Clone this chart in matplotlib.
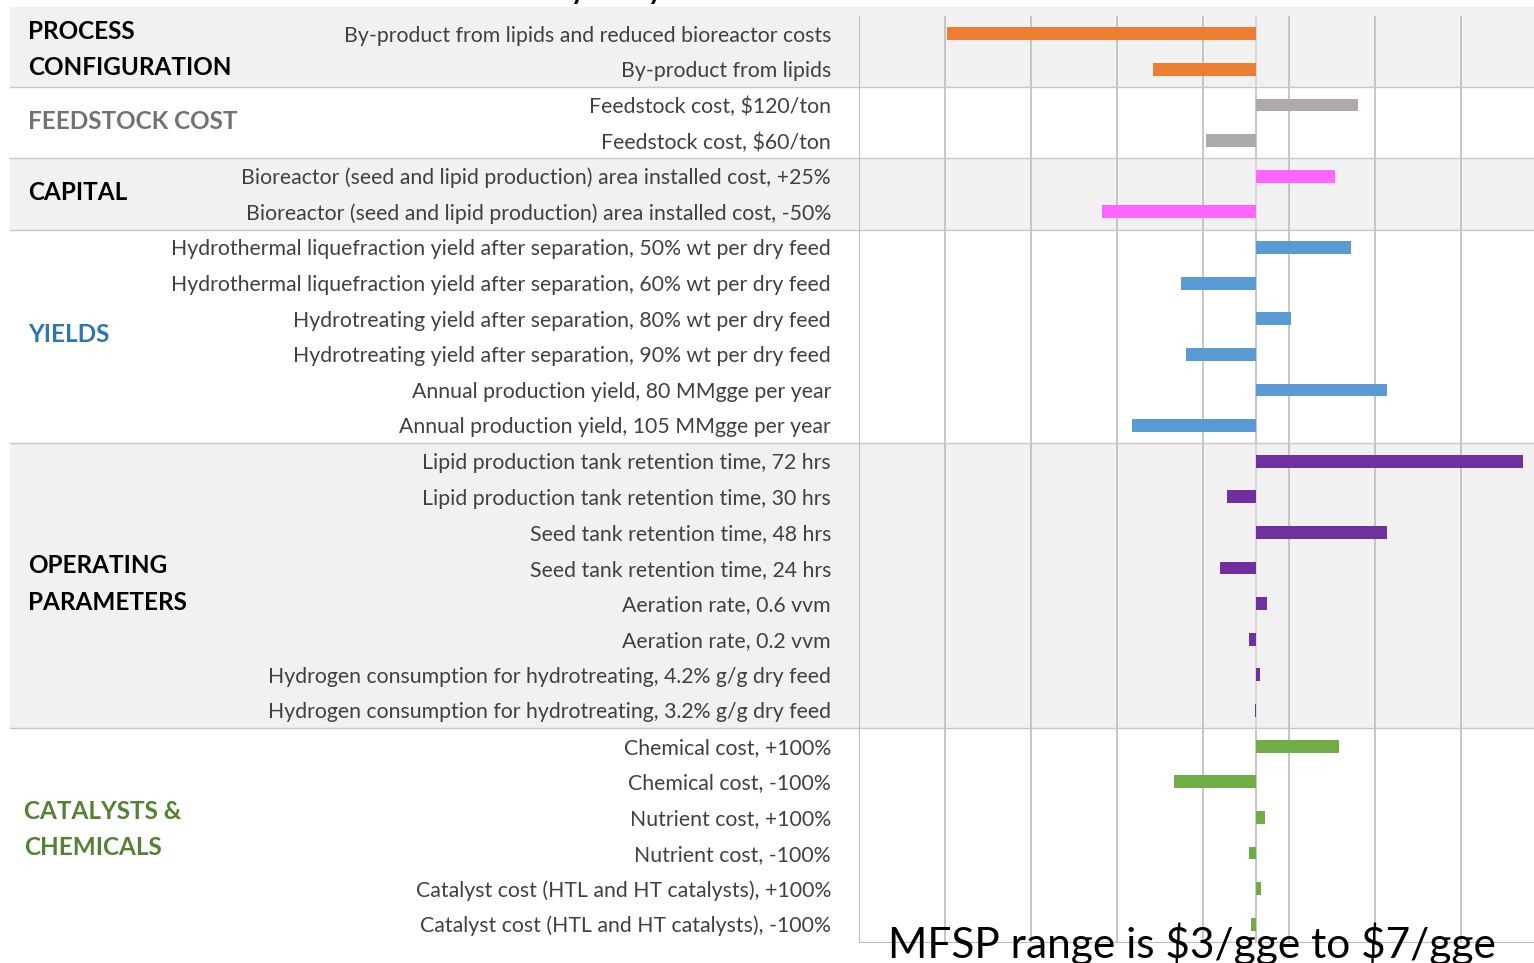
import numpy as np
import matplotlib.pyplot as plt
from matplotlib.patches import Rectangle
from matplotlib.transforms import blended_transform_factory

plt.rcParams['font.family'] = ['Lato', 'DejaVu Sans']

# MFSP base case ($/gge) and sensitivity case results
base = 4.81

labels = [
    "By-product from lipids and reduced bioreactor costs",
    "By-product from lipids",
    r"Feedstock cost, \$120/ton",
    r"Feedstock cost, \$60/ton",
    "Bioreactor (seed and lipid production) area installed cost, +25%",
    "Bioreactor (seed and lipid production) area installed cost, -50%",
    "Hydrothermal liquefraction yield after separation, 50% wt per dry feed",
    "Hydrothermal liquefraction yield after separation, 60% wt per dry feed",
    "Hydrotreating yield after separation, 80% wt per dry feed",
    "Hydrotreating yield after separation, 90% wt per dry feed",
    "Annual production yield, 80 MMgge per year",
    "Annual production yield, 105 MMgge per year",
    "Lipid production tank retention time, 72 hrs",
    "Lipid production tank retention time, 30 hrs",
    "Seed tank retention time, 48 hrs",
    "Seed tank retention time, 24 hrs",
    "Aeration rate, 0.6 vvm",
    "Aeration rate, 0.2 vvm",
    "Hydrogen consumption for hydrotreating, 4.2% g/g dry feed",
    "Hydrogen consumption for hydrotreating, 3.2% g/g dry feed",
    "Chemical cost, +100%",
    "Chemical cost, -100%",
    "Nutrient cost, +100%",
    "Nutrient cost, -100%",
    "Catalyst cost (HTL and HT catalysts), +100%",
    "Catalyst cost (HTL and HT catalysts), -100%",
]

mfsp = [3.01, 4.21, 5.40, 4.52, 5.27, 3.91, 5.36, 4.37, 5.01, 4.40, 5.57, 4.09,
        6.36, 4.64, 5.57, 4.60, 4.87, 4.77, 4.83, 4.80, 5.29, 4.33, 4.86, 4.77,
        4.84, 4.78]

# groups: name, first row, last row, text colour, shaded band
groups = ["PROCESS\nCONFIGURATION", "FEEDSTOCK COST", "CAPITAL", "YIELDS",
          "OPERATING\nPARAMETERS", "CATALYSTS &\nCHEMICALS"]
group_rows = [(0, 1), (2, 3), (4, 5), (6, 11), (12, 19), (20, 25)]
group_colors = ["black", "#767171", "black", "#2e75b6", "black", "#548235"]
bar_colors = ["#ed7d31", "#aeaaaa", "#ff66ff", "#5b9bd5", "#7030a0", "#70ad47"]
shaded = [True, False, True, False, True, False]

W, H = 1534, 963
fig = plt.figure(figsize=(W / 100, H / 100), dpi=100)
ax = fig.add_axes([859 / W, 21 / H, 675 / W, (942 - 16) / H])
ax.set_facecolor('none')

n = len(labels)
y = np.arange(n)
colors = []
for g, (a, b) in enumerate(group_rows):
    colors += [bar_colors[g]] * (b - a + 1)

ax.barh(y, np.array(mfsp) - base, left=base, height=0.36, color=colors, zorder=3)

ax.set_xlim(2.5, 2.5 + 675 / 172)
ax.set_ylim(n - 0.5, -0.5)
ax.set_xticks(np.arange(2.5, 6.01, 0.5))
ax.set_yticks([])
ax.tick_params(length=0, labelbottom=False)
ax.grid(axis='x', color='#bdbdbd', linewidth=1.2, zorder=0)
ax.axvline(base, color='#bdbdbd', linewidth=1.2, zorder=0)
for s in ['top', 'right']:
    ax.spines[s].set_visible(False)
for s in ['left', 'bottom']:
    ax.spines[s].set_color('#bdbdbd')

tr = blended_transform_factory(fig.transFigure, ax.transData)

# shaded bands and separators
for g, (a, b) in enumerate(group_rows):
    top = a - 0.5 if g > 0 else -0.75
    if shaded[g]:
        ax.add_patch(Rectangle((10 / W, top), 1 - 10 / W, b + 0.5 - top,
                               transform=tr, facecolor='#e4e4e4', alpha=0.5,
                               edgecolor='none', zorder=1, clip_on=False))
    if g < len(groups) - 1:
        ax.plot([10 / W, 1], [b + 0.5, b + 0.5], transform=tr, color='#c8c8c8',
                linewidth=1, zorder=2, clip_on=False)
    ax.text(28 / W if g < 5 else 24 / W, (a + b) / 2 - (0.15 if g == 5 else 0.05),
            groups[g], transform=tr, ha='left', va='center',
            fontsize=17.5, fontweight='bold', color=group_colors[g],
            linespacing=1.7)

for i, lab in enumerate(labels):
    ax.text(831 / W, i + 0.05, lab, transform=tr, ha='right', va='center',
            fontsize=15.3, color='#404040')

fig.text(575 / W, 1 + 1 / H, "Sensitivity Analysis", ha='center', va='baseline',
         fontsize=20, fontweight='bold', color='black')
fig.text(888 / W, 5 / H, r"MFSP range is \$3/gge to \$7/gge", ha='left',
         va='baseline', fontsize=30.5, color='black')

fig.savefig('out.png', dpi=100)
